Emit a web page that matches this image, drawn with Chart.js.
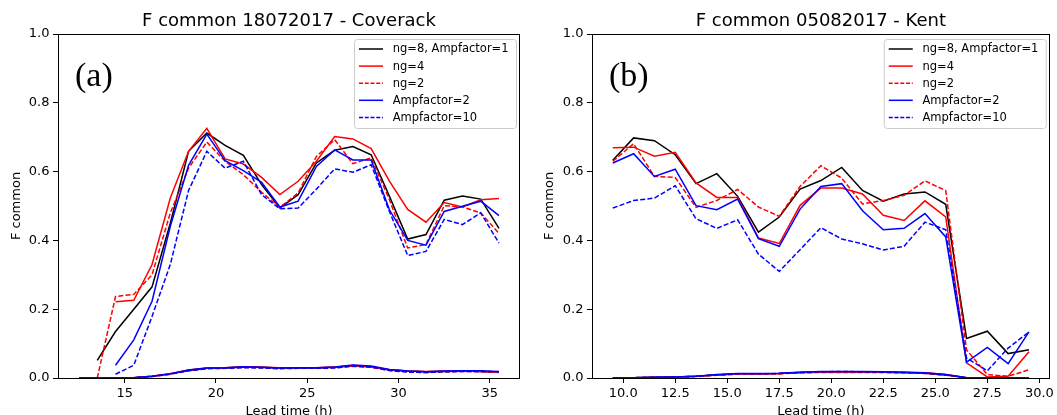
<!DOCTYPE html>
<html>
<head>
<meta charset="utf-8">
<script src="https://cdn.jsdelivr.net/npm/chart.js@4.4.0/dist/chart.umd.min.js"></script>
<style>
  html, body { margin: 0; padding: 0; background: #fff; }
  body { width: 1057px; height: 415px; position: relative; overflow: hidden; }
  .panel { position: absolute; top: 0; height: 415px; }
  #panelA { left: 0; width: 528px; }
  #panelB { left: 528px; width: 529px; }
</style>
</head>
<body>
<div class="panel" id="panelA"><canvas id="chartA"></canvas></div>
<div class="panel" id="panelB"><canvas id="chartB"></canvas></div>
<script>
const seriesLabels = ["ng=8, Ampfactor=1", "ng=4", "ng=2", "Ampfactor=2", "Ampfactor=10"];
const yTicks = [0, 0.2, 0.4, 0.6, 0.8, 1.0];

// 18072017 - Coverack
const hoursA = [12.5, 13.5, 14.5, 15.5, 16.5, 17.5, 18.5, 19.5, 20.5, 21.5, 22.5, 23.5,
                24.5, 25.5, 26.5, 27.5, 28.5, 29.5, 30.5, 31.5, 32.5, 33.5, 34.5, 35.5];
const xTicksA = [15, 20, 25, 30, 35];
const blackA    = [null, 0.051, 0.135, 0.200, 0.265, 0.450, 0.659, 0.712, 0.676, 0.647, 0.562, 0.494, 0.533, 0.625, 0.662, 0.673, 0.649, 0.528, 0.404, 0.417, 0.517, 0.529, 0.520, 0.435];
const redA      = [null, null, 0.222, 0.226, 0.330, 0.523, 0.659, 0.726, 0.637, 0.622, 0.583, 0.533, 0.572, 0.630, 0.702, 0.695, 0.667, 0.572, 0.490, 0.453, 0.510, 0.497, 0.518, 0.522];
const redDashA  = [null, 0.000, 0.237, 0.243, 0.300, 0.480, 0.610, 0.686, 0.630, 0.591, 0.540, 0.496, 0.538, 0.644, 0.693, 0.623, 0.640, 0.518, 0.378, 0.388, 0.501, 0.497, 0.480, 0.420];
const blueA     = [null, null, 0.037, 0.111, 0.223, 0.441, 0.618, 0.709, 0.632, 0.603, 0.569, 0.497, 0.514, 0.615, 0.663, 0.634, 0.634, 0.489, 0.400, 0.386, 0.484, 0.499, 0.514, 0.472];
const blueDashA = [null, null, 0.011, 0.037, 0.179, 0.330, 0.545, 0.659, 0.610, 0.630, 0.533, 0.492, 0.494, 0.549, 0.608, 0.598, 0.620, 0.484, 0.356, 0.368, 0.461, 0.446, 0.480, 0.392];
// the near-zero curves
const lowBlackA    = [0, 0, 0, 0.001, 0.005, 0.012, 0.022, 0.028, 0.029, 0.032, 0.031, 0.029, 0.029, 0.029, 0.031, 0.036, 0.033, 0.024, 0.020, 0.018, 0.019, 0.020, 0.019, 0.017];
const lowRedA      = [0, 0, 0, 0.001, 0.005, 0.013, 0.023, 0.029, 0.030, 0.033, 0.031, 0.030, 0.030, 0.030, 0.032, 0.035, 0.032, 0.023, 0.020, 0.019, 0.020, 0.020, 0.019, 0.016];
const lowRedDashA  = [0, 0, 0, 0.001, 0.004, 0.012, 0.022, 0.028, 0.029, 0.031, 0.030, 0.029, 0.029, 0.029, 0.030, 0.034, 0.031, 0.022, 0.018, 0.016, 0.018, 0.019, 0.019, 0.018];
const lowBlueA     = [0, 0, 0, 0.001, 0.005, 0.012, 0.023, 0.029, 0.030, 0.033, 0.031, 0.029, 0.030, 0.030, 0.032, 0.038, 0.035, 0.025, 0.020, 0.018, 0.020, 0.021, 0.021, 0.019];
const lowBlueDashA = [0, 0, 0, 0.001, 0.004, 0.011, 0.021, 0.027, 0.028, 0.030, 0.029, 0.027, 0.028, 0.028, 0.029, 0.035, 0.032, 0.022, 0.017, 0.016, 0.018, 0.019, 0.019, 0.018];

// 05082017 - Kent
const hoursB = [9.5, 10.5, 11.5, 12.5, 13.5, 14.5, 15.5, 16.5, 17.5, 18.5, 19.5,
                20.5, 21.5, 22.5, 23.5, 24.5, 25.5, 26.5, 27.5, 28.5, 29.5];
const xTicksB = [10.0, 12.5, 15.0, 17.5, 20.0, 22.5, 25.0, 27.5, 30.0];
const blackB    = [0.633, 0.698, 0.690, 0.649, 0.565, 0.594, 0.528, 0.424, 0.468, 0.549, 0.574, 0.612, 0.545, 0.514, 0.535, 0.541, 0.505, 0.115, 0.136, 0.071, 0.082];
const redB      = [0.669, 0.671, 0.645, 0.656, 0.567, 0.525, 0.525, 0.407, 0.391, 0.502, 0.552, 0.552, 0.535, 0.473, 0.458, 0.515, 0.468, 0.044, 0.003, 0.005, 0.076];
const redDashB  = [0.630, 0.681, 0.586, 0.583, 0.496, 0.516, 0.548, 0.497, 0.470, 0.557, 0.617, 0.581, 0.506, 0.516, 0.531, 0.573, 0.545, 0.082, 0.010, 0.005, 0.024];
const blueB     = [0.625, 0.652, 0.586, 0.607, 0.501, 0.489, 0.520, 0.405, 0.383, 0.491, 0.557, 0.565, 0.486, 0.431, 0.435, 0.478, 0.410, 0.046, 0.089, 0.042, 0.134];
const blueDashB = [0.494, 0.516, 0.523, 0.559, 0.463, 0.435, 0.460, 0.360, 0.310, 0.373, 0.437, 0.404, 0.390, 0.372, 0.383, 0.453, 0.431, 0.058, 0.021, 0.087, 0.134];
const lowBlackB    = [0, 0.001, 0.002, 0.003, 0.005, 0.009, 0.012, 0.012, 0.013, 0.016, 0.018, 0.018, 0.018, 0.017, 0.016, 0.014, 0.009, 0.001, 0, 0, 0];
const lowRedB      = [0, 0.001, 0.002, 0.003, 0.005, 0.009, 0.012, 0.012, 0.013, 0.016, 0.017, 0.017, 0.017, 0.017, 0.016, 0.015, 0.010, 0.001, 0, 0, 0];
const lowRedDashB  = [0, 0.001, 0.002, 0.003, 0.004, 0.008, 0.011, 0.011, 0.012, 0.015, 0.016, 0.016, 0.016, 0.016, 0.015, 0.013, 0.008, 0.001, 0, 0, 0];
const lowBlueB     = [0, 0.001, 0.002, 0.003, 0.005, 0.010, 0.013, 0.013, 0.014, 0.017, 0.019, 0.019, 0.019, 0.018, 0.017, 0.015, 0.010, 0.001, 0, 0, 0];
const lowBlueDashB = [0, 0.001, 0.002, 0.003, 0.005, 0.009, 0.012, 0.012, 0.013, 0.016, 0.018, 0.019, 0.018, 0.017, 0.016, 0.014, 0.009, 0.001, 0, 0, 0];

const styles = [
  { color: "#000000", dash: [] },
  { color: "#ff0000", dash: [] },
  { color: "#ff0000", dash: [5, 2.2] },
  { color: "#0000ff", dash: [] },
  { color: "#0000ff", dash: [5, 2.2] }
];

Chart.defaults.font.family = "'DejaVu Sans', sans-serif";
Chart.defaults.color = "#000";

function line(hours, values, style) {
  return {
    data: hours.map((h, i) => ({ x: h, y: values[i] })),
    borderColor: style.color,
    borderDash: style.dash,
    borderWidth: 1.5,
    pointRadius: 0,
    tension: 0,
    spanGaps: false,
    fill: false
  };
}

// frame, panel letter and the legend box
const panelDecor = {
  id: "panelDecor",
  afterDraw(chart, args, opts) {
    const { ctx, chartArea: a } = chart;
    ctx.save();
    ctx.strokeStyle = "#000";
    ctx.lineWidth = 1;
    const x0 = Math.round(a.left) + 0.5, x1 = Math.round(a.right) - 0.5;
    const y0 = Math.round(a.top) + 0.5, y1 = Math.round(a.bottom) + 0.5;
    ctx.strokeRect(x0, y0, x1 - x0, y1 - y0);

    ctx.fillStyle = "#000";
    ctx.font = "34px 'Liberation Serif', serif";
    ctx.textBaseline = "alphabetic";
    ctx.textAlign = "left";
    ctx.fillText(opts.letter, a.left + 17, a.top + 52);

    const bx = a.right - 166, by = a.top + 5, bw = 162, bh = 89;
    ctx.beginPath();
    ctx.roundRect(bx + 0.5, by + 0.5, bw, bh, 3);
    ctx.fillStyle = "rgba(255,255,255,0.8)";
    ctx.fill();
    ctx.strokeStyle = "#cccccc";
    ctx.stroke();

    ctx.font = "11.5px 'DejaVu Sans', sans-serif";
    ctx.textBaseline = "middle";
    seriesLabels.forEach((label, i) => {
      const cy = by + 10 + i * 17.1;
      ctx.beginPath();
      ctx.strokeStyle = styles[i].color;
      ctx.lineWidth = 1.5;
      ctx.setLineDash(styles[i].dash.map(d => d * 0.8));
      ctx.moveTo(bx + 5, cy);
      ctx.lineTo(bx + 29, cy);
      ctx.stroke();
      ctx.setLineDash([]);
      ctx.fillStyle = "#000";
      ctx.fillText(label, bx + 38.7, cy + 0.5);
    });
    ctx.restore();
  }
};

function makePanel(id, cfg) {
  const datasets = [];
  cfg.upper.forEach((vals, i) => datasets.push(line(cfg.hours, vals, styles[i])));
  cfg.lower.forEach((vals, i) => datasets.push(line(cfg.hours, vals, styles[i])));
  datasets.forEach((d, i) => { d.order = datasets.length - i; });

  return new Chart(document.getElementById(id), {
    type: "line",
    data: { datasets: datasets },
    options: {
      responsive: true,
      maintainAspectRatio: false,
      animation: false,
      layout: { padding: { left: 0, right: cfg.padRight, top: 0, bottom: 0 } },
      plugins: {
        legend: { display: false },
        tooltip: { enabled: false },
        title: {
          display: true,
          text: cfg.title,
          fullSize: false,
          color: "#000",
          font: { size: 18, weight: "normal" },
          padding: { top: 10.2, bottom: 2.2 }
        },
        panelDecor: { letter: cfg.letter }
      },
      scales: {
        x: {
          type: "linear",
          min: cfg.xMin,
          max: cfg.xMax,
          afterBuildTicks: s => { s.ticks = cfg.xTicks.map(v => ({ value: v })); },
          afterFit: s => { s.height = 37; },
          grid: { drawOnChartArea: false, drawTicks: true, tickLength: 5, color: "#000" },
          border: { display: false },
          ticks: {
            color: "#000",
            font: { size: 13 },
            padding: 3,
            maxRotation: 0,
            autoSkip: false,
            callback: v => v.toFixed(cfg.xDigits)
          },
          title: {
            display: true,
            text: "Lead time (h)",
            color: "#000",
            font: { size: 13 },
            padding: { top: 0, bottom: -4 }
          }
        },
        y: {
          min: 0,
          max: 1,
          afterBuildTicks: s => { s.ticks = yTicks.map(v => ({ value: v })); },
          afterFit: s => { s.width = cfg.yWidth; },
          grid: { drawOnChartArea: false, drawTicks: true, tickLength: 5, color: "#000" },
          border: { display: false },
          ticks: {
            color: "#000",
            font: { size: 13 },
            padding: 3.5,
            callback: v => v.toFixed(1)
          },
          title: {
            display: true,
            text: "F common",
            color: "#000",
            font: { size: 13 },
            padding: { top: cfg.yTitlePad, bottom: 0 }
          }
        }
      }
    },
    plugins: [panelDecor]
  });
}

makePanel("chartA", {
  title: "F common 18072017 - Coverack",
  letter: "(a)",
  hours: hoursA,
  upper: [blackA, redA, redDashA, blueA, blueDashA],
  lower: [lowBlackA, lowRedA, lowRedDashA, lowBlueA, lowBlueDashA],
  xMin: 11.35, xMax: 36.65, xTicks: xTicksA, xDigits: 0,
  yWidth: 58, yTitlePad: 9.2, padRight: 8
});

makePanel("chartB", {
  title: "F common 05082017 - Kent",
  letter: "(b)",
  hours: hoursB,
  upper: [blackB, redB, redDashB, blueB, blueDashB],
  lower: [lowBlackB, lowRedB, lowRedDashB, lowBlueB, lowBlueDashB],
  xMin: 8.5, xMax: 30.5, xTicks: xTicksB, xDigits: 1,
  yWidth: 64, yTitlePad: 14.2, padRight: 2
});
</script>
</body>
</html>
